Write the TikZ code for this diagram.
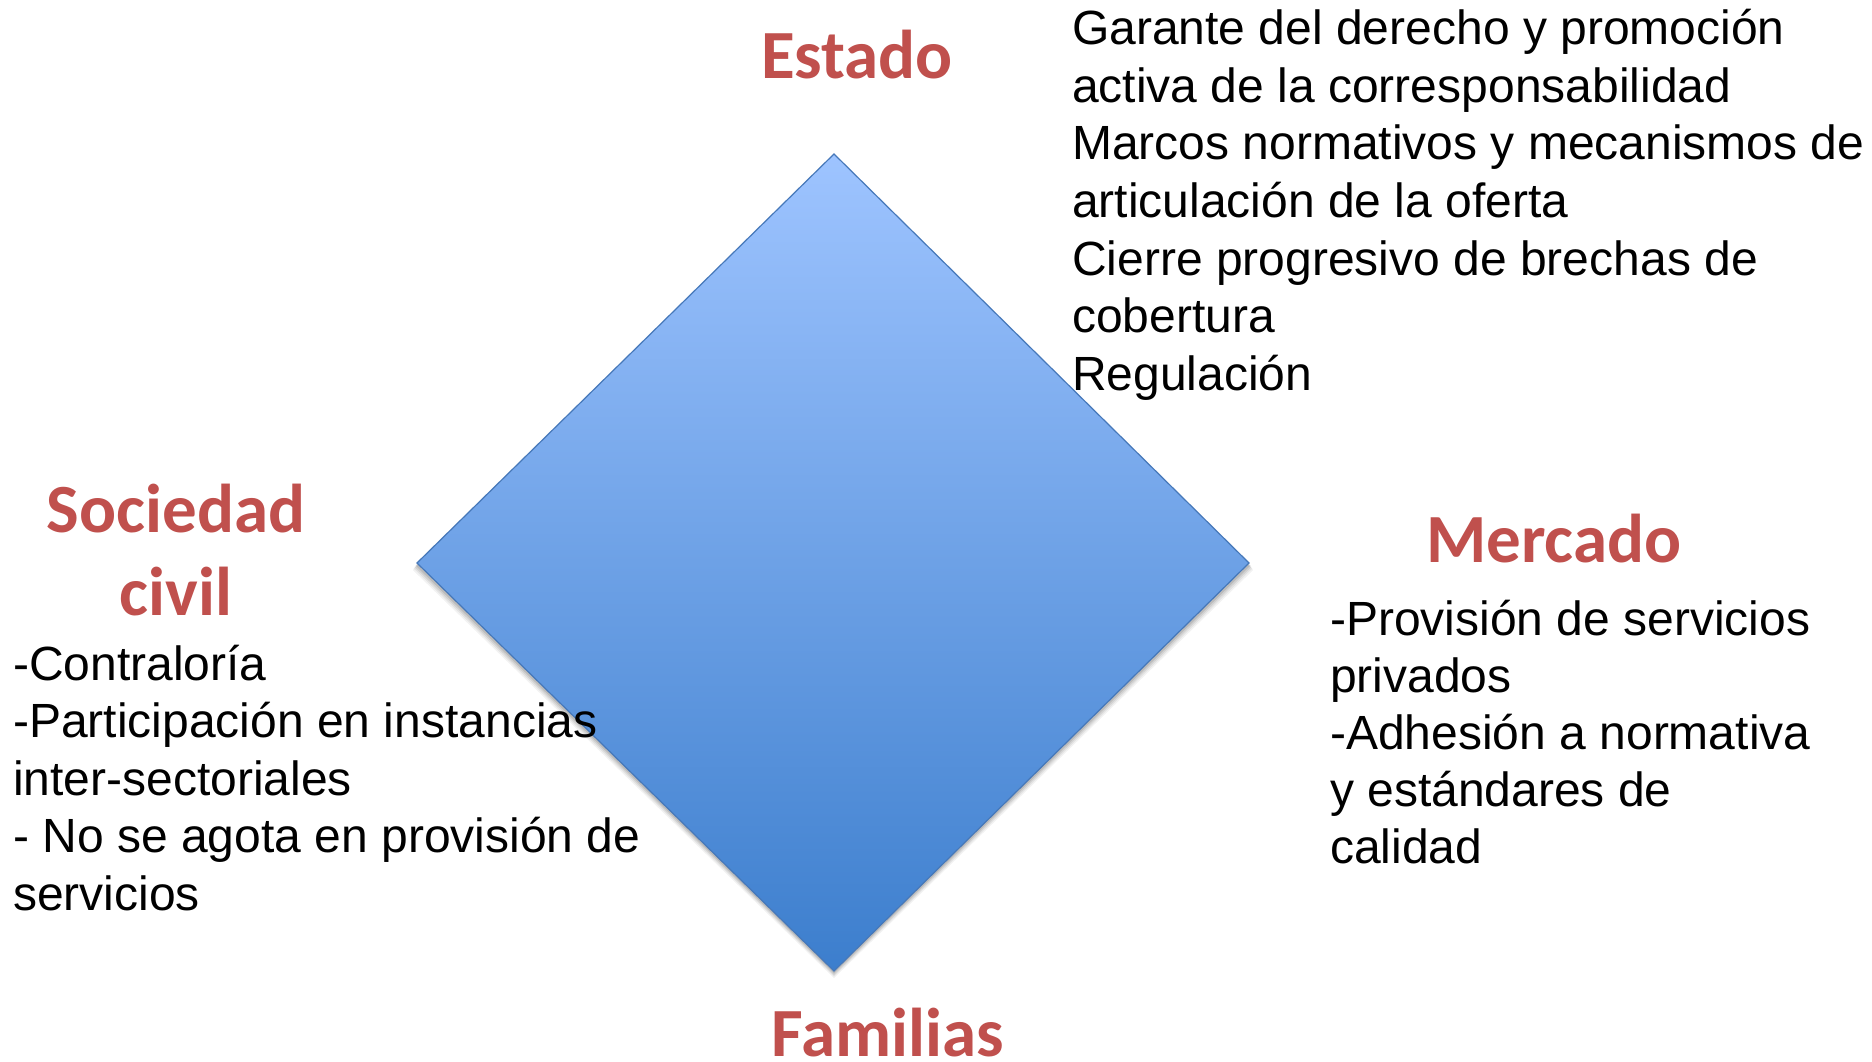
\documentclass[tikz,border=0pt]{standalone}
\usepackage{fontspec}
\setmainfont{Liberation Sans}
\newfontfamily\titlefont{Carlito}
\usetikzlibrary{calc}
\definecolor{titlered}{RGB}{192,80,77}
\definecolor{dtop}{RGB}{158,196,255}
\definecolor{dbot}{RGB}{60,126,205}
\definecolor{dedge}{RGB}{70,120,185}
\tikzset{
  titletext/.style={anchor=base, inner sep=0pt, text=titlered, font=\titlefont\bfseries\fontsize{69}{83}\selectfont},
  bodytext/.style={anchor=base west, inner sep=0pt, text=black, font=\fontsize{48}{57.5}\selectfont},
  diamondshape/.style={draw=dedge, line width=1.2pt, top color=dtop, bottom color=dbot, line join=miter},
}
\begin{document}
\begin{tikzpicture}[x=1pt,y=-1pt]
\useasboundingbox[fill=white] (0,0) rectangle (1872,1062);
% diamond corners
\coordinate (dT) at (834,154);
\coordinate (dL) at (417,563);
\coordinate (dR) at (1249,563);
\coordinate (dB) at (834,971);
% soft shadow
\foreach \o/\op in {7/0.05,5.5/0.06,4/0.08,2.5/0.1}{
  \fill[black, opacity=\op] ($(dT)+(0,\o)$) -- ($(dR)+(\o*0.6,\o)$) -- ($(dB)+(0,\o)$) -- ($(dL)+(-\o*0.6,\o)$) -- cycle;
}
\draw[diamondshape] (dT) -- (dR) -- (dB) -- (dL) -- cycle;
% titles
\node[titletext] (estado) at (857,79) {Estado};
\node[titletext] (familias) at (888,1056) {Familias};
\node[titletext] (sociedad) at (176,532) {Sociedad};
\node[titletext] (civil) at (176,615) {civil};
\node[titletext] (mercado) at (1554,562) {Mercado};
% Estado text
\node[bodytext] (e1) at (1072,45) {Garante del derecho y promoción};
\node[bodytext] (e2) at (1072,102.5) {activa de la corresponsabilidad};
\node[bodytext] (e3) at (1072,160) {Marcos normativos y mecanismos de};
\node[bodytext] (e4) at (1072,217.5) {articulación de la oferta};
\node[bodytext] (e5) at (1072,275) {Cierre progresivo de brechas de};
\node[bodytext] (e6) at (1072,332.5) {cobertura};
\node[bodytext] (e7) at (1072,390) {Regulación};
% Sociedad civil text
\node[bodytext] (s1) at (13,680) {-Contraloría};
\node[bodytext] (s2) at (13,737.5) {-Participación en instancias};
\node[bodytext] (s3) at (13,795) {inter-sectoriales};
\node[bodytext] (s4) at (13,852.5) {- No se agota en provisión de};
\node[bodytext] (s5) at (13,910) {servicios};
% Mercado text
\node[bodytext] (m1) at (1330,635) {-Provisión de servicios};
\node[bodytext] (m2) at (1330,692) {privados};
\node[bodytext] (m3) at (1330,749) {-Adhesión a normativa};
\node[bodytext] (m4) at (1330,806) {y estándares de};
\node[bodytext] (m5) at (1330,863) {calidad};
\end{tikzpicture}
\end{document}
